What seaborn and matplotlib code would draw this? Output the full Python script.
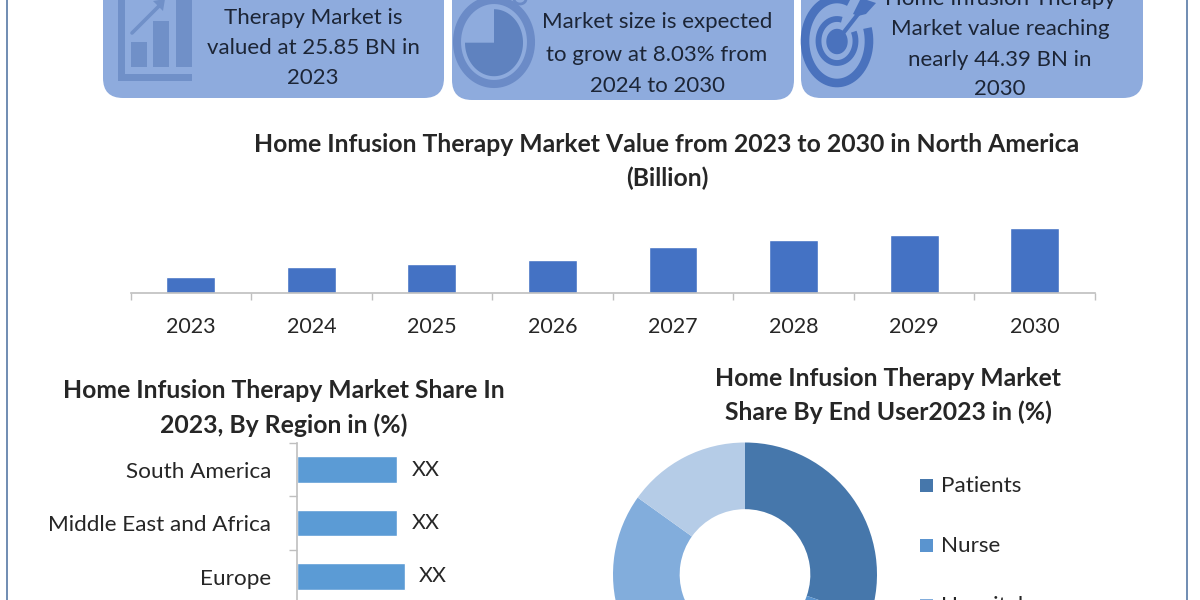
import numpy as np
import pandas as pd
import matplotlib
matplotlib.use("Agg")
import matplotlib.pyplot as plt
from matplotlib.patches import FancyBboxPatch, Rectangle, Polygon
import seaborn as sns

# ---- chart values ----
years = ["2023", "2024", "2025", "2026", "2027", "2028", "2029", "2030"]
market_value = [1.6, 2.6, 2.95, 3.3, 4.6, 5.35, 5.85, 6.5]

regions = ["South America", "Middle East and Africa", "Europe"]
region_share = [10.1, 10.1, 10.8]
region_labels = ["XX", "XX", "XX"]

end_users = ["Patients", "Nurse", "Hospital", "Others"]
end_user_share = [30.3, 25.0, 29.6, 15.1]
end_user_colors = ["#4677AB", "#5A94CF", "#82ADDC", "#B5CCE7"]

card_lines = [
    ["Therapy Market is", "valued at 25.85 BN in", "2023"],
    ["Home Infusion Therapy", "Market size is expected", "to grow at 8.03% from", "2024 to 2030"],
    ["Home Infusion Therapy", "Market value reaching", "nearly 44.39 BN in", "2030"],
]

W, H = 1200, 600
FONT = "Lato"
TEXT = "#262626"
CARD = "#8EABDD"

sns.set_theme(style="white")
plt.rcParams["font.family"] = [FONT, "DejaVu Sans"]


def px_axes(fig, left, top, right, bottom, **kw):
    """Axes placed by pixel edges measured from the top-left corner."""
    return fig.add_axes([left / W, 1 - bottom / H, (right - left) / W, (bottom - top) / H], **kw)


fig = plt.figure(figsize=(W / 100, H / 100), dpi=100, facecolor="white")

# Full-canvas layer for the frame, cards, icons and headings
bg = px_axes(fig, 0, 0, W, H)
bg.set_xlim(0, W)
bg.set_ylim(H, 0)
bg.axis("off")

for x in (7.3, 1187.3):
    bg.plot([x, x], [0, H], color="#6484AC", lw=1.3)

for x0, x1, y1 in ((103, 444, 98), (452, 794, 100), (801, 1143, 98)):
    bg.add_patch(FancyBboxPatch((x0, -60), x1 - x0, y1 + 60, boxstyle="round,pad=0,rounding_size=20",
                                fc=CARD, ec="none", zorder=1))

# Bar-chart icon
ICON_A = "#7090C8"
for x, y, w, h in ((118, -2, 7, 83), (118, 74, 74, 7), (131, 42, 16, 25), (153, 21, 16, 46), (176, -2, 16, 69)):
    bg.add_patch(Rectangle((x, y), w, h, fc=ICON_A, ec="none", zorder=2))
bg.plot([132, 160], [33, 5], color=ICON_A, lw=2.6, zorder=2)
bg.add_patch(Polygon([[165, -1], [153, 1], [163, 11]], fc=ICON_A, ec="none", zorder=2))

# Stopwatch icon
t = np.linspace(0, 2 * np.pi, 240)
ICON_B = "#6B8BC7"
bg.plot(494 + 37 * np.cos(t), 42 + 42 * np.sin(t), color=ICON_B, lw=5.8, zorder=2)
sweep = np.linspace(-np.pi / 2, np.pi, 180)
dial = np.column_stack([494 + 29 * np.cos(sweep), 42.7 + 33.5 * np.sin(sweep)])
bg.add_patch(Polygon(np.vstack([[494, 42.7], dial]), fc="#5F82BF", ec="none", zorder=2))
bg.plot(520 + 6 * np.cos(t), -1 + 5 * np.sin(t), color=ICON_B, lw=2, zorder=2)

# Target icon
ICON_C = "#4A72BD"
sweep = np.radians(np.linspace(-18, 292, 240))
bg.plot(837 + 32 * np.cos(sweep), 41 + 42 * np.sin(sweep), color=ICON_C, lw=6.2, zorder=2, solid_capstyle="butt")
sweep = np.radians(np.linspace(-25, 285, 240))
bg.plot(837 + 18.5 * np.cos(sweep), 41 + 22 * np.sin(sweep), color=ICON_C, lw=4.2, zorder=2, solid_capstyle="butt")
bg.fill(837 + 10 * np.cos(t), 41.5 + 12 * np.sin(t), color=ICON_C, zorder=2)
bg.plot([837, 862], [41, 9], color=ICON_C, lw=3, zorder=2)
bg.add_patch(Polygon([[853, 14], [861, -2], [876, 3], [866, 14], [858, 16]], fc=ICON_C, ec="none", zorder=2))

# Card captions
CAP = "#1C2536"
for cx, ys, lines in ((313, (18.5, 48.5, 78.5), card_lines[0]),
                      (657, (-10, 22, 55, 86), card_lines[1]),
                      (1000, (-1, 29, 60, 89), card_lines[2])):
    for y, s in zip(ys, lines):
        bg.text(cx, y, s, ha="center", va="center", fontsize=16, color=CAP, zorder=3)

# Headings
for cx, y, s in ((667, 144, "Home Infusion Therapy Market Value from 2023 to 2030 in North America"),
                 (667, 178, "(Billion)"),
                 (284, 391, "Home Infusion Therapy Market Share In"),
                 (284, 425, "2023, By Region in (%)"),
                 (888, 378, "Home Infusion Therapy Market"),
                 (888, 412, "Share By End User2023 in (%)")):
    bg.text(cx, y, s, ha="center", va="center", fontsize=17.8, fontweight="bold", color=TEXT, zorder=3)

GREY = "#BFBFBF"

# Yearly market value columns
ax1 = px_axes(fig, 130.5, 193, 1095, 293)
ax1.patch.set_alpha(0)
sns.barplot(data=pd.DataFrame({"year": years, "value": market_value}), x="year", y="value",
            color="#4472C4", saturation=1, width=0.405, ax=ax1)
ax1.set_xlim(-0.5, 7.5)
ax1.set_ylim(0, 10)
ax1.set(xlabel="", ylabel="")
ax1.set_yticks([])
sns.despine(ax=ax1, left=True)
ax1.spines["bottom"].set_color(GREY)
ax1.spines["bottom"].set_linewidth(1.2)
ax1.set_xticks(np.arange(-0.5, 8), minor=True)
ax1.tick_params(axis="x", which="minor", bottom=True, length=5, width=1, color=GREY)
ax1.tick_params(axis="x", which="major", bottom=False, pad=11.5, labelsize=15.5, labelcolor=TEXT)

# Regional share bars
ax2 = px_axes(fig, 296.5, 443, 506, 600)
ax2.patch.set_alpha(0)
sns.barplot(data=pd.DataFrame({"region": regions, "share": region_share}), y="region", x="share",
            color="#5B9BD5", saturation=1, width=0.497, orient="h", ax=ax2)
ax2.set_xlim(0, 20.95)
ax2.set_ylim(2.44, -0.5)
ax2.set(xlabel="", ylabel="")
ax2.set_xticks([])
sns.despine(ax=ax2, bottom=True)
ax2.spines["left"].set_color(GREY)
ax2.spines["left"].set_linewidth(1.2)
ax2.set_yticks([-0.5, 0.5, 1.5], minor=True)
ax2.tick_params(axis="y", which="minor", left=True, length=6, width=1, color=GREY)
ax2.tick_params(axis="y", which="major", left=False, pad=12, labelsize=16.2, labelcolor=TEXT)
for lab in ax2.bar_label(ax2.containers[0], labels=region_labels, padding=10, fontsize=15.5, color=TEXT):
    lab.set_y(lab.get_position()[1] + 0.03)

# End-user donut
R = 132
ax3 = px_axes(fig, 745 - R, 574.5 - R, 745 + R, 574.5 + R)
wedges, _ = ax3.pie(end_user_share, colors=end_user_colors, startangle=90, counterclock=False, radius=1,
                    wedgeprops={"width": 0.505, "linewidth": 0})
ax3.set_xlim(-1, 1)
ax3.set_ylim(-1, 1)

# Legend for the donut
for y, s, c in zip((485, 545, 605), end_users[:3], end_user_colors[:3]):
    bg.add_patch(Rectangle((920, y - 6.5), 13, 13, fc=c, ec="none", zorder=3))
    bg.text(941, y + 1.5, s, ha="left", va="center", fontsize=16.2, color=TEXT, zorder=3)

fig.savefig("out.png", dpi=100)
